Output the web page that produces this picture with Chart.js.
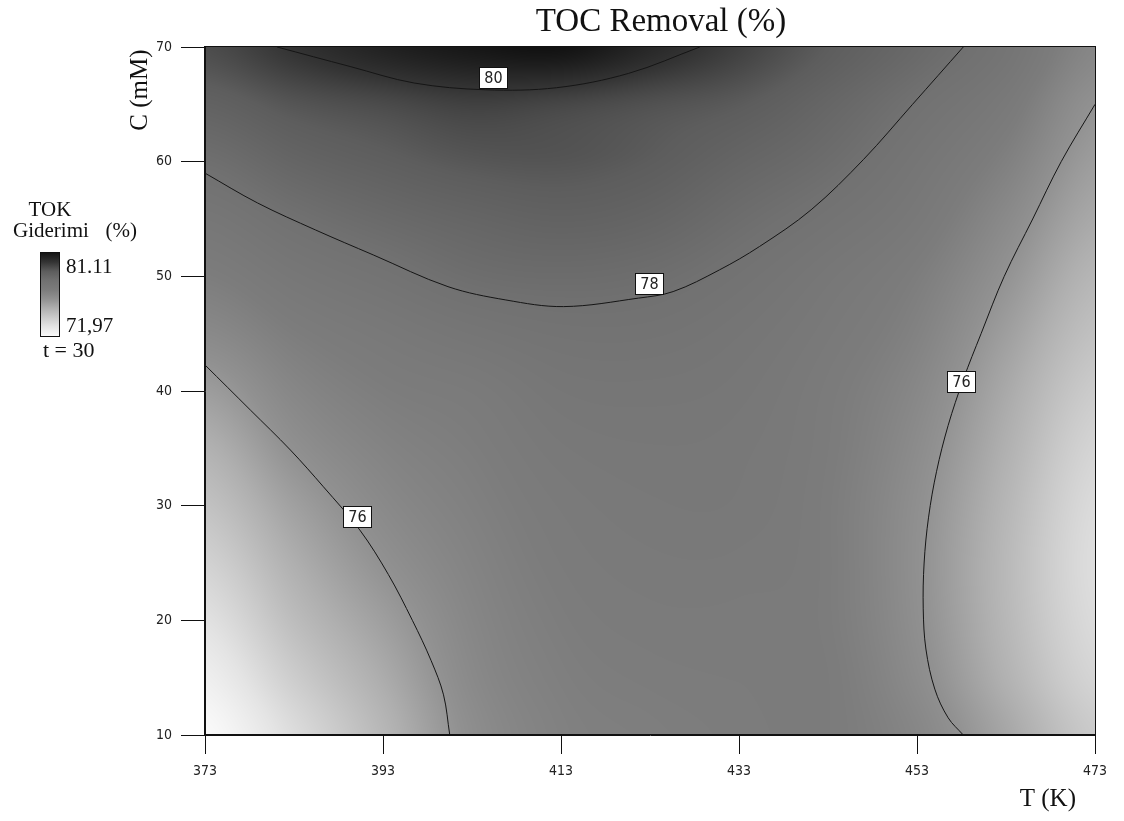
<!DOCTYPE html>
<html>
<head>
<meta charset="utf-8">
<title>TOC Removal (%)</title>
<script src="https://cdn.jsdelivr.net/npm/chart.js@4.4.1/dist/chart.umd.min.js"></script>
<style>
    html, body { margin: 0; padding: 0; background: #fff; }
</style>
</head>
<body>
<canvas id="myChart" width="1124" height="821"></canvas>
<script>
// grid of the response surface: columns = T (K), rows = C (mM), values = TOC removal (%)
const tempK = [373, 383, 393, 403, 413, 423, 433, 443, 453, 463, 473];
const concMM = [10, 15, 20, 25, 30, 35, 40, 45, 50, 55, 60, 65, 70];
const removal = [
    [71.97, 73.3, 74.7, 76.15, 76.75, 76.9, 77.0, 77.05, 76.5, 75.3, 74.0],
    [72.5, 73.9, 75.1, 76.35, 76.85, 77.0, 77.05, 77.05, 76.25, 74.9, 73.6],
    [73.1, 74.5, 75.55, 76.5, 76.95, 77.1, 77.1, 77.0, 76.1, 74.7, 73.35],
    [73.7, 75.0, 76.0, 76.65, 77.05, 77.2, 77.2, 77.0, 76.05, 74.65, 73.25],
    [74.3, 75.5, 76.35, 76.8, 77.15, 77.3, 77.3, 77.0, 76.1, 74.75, 73.35],
    [74.9, 76.05, 76.65, 76.95, 77.3, 77.4, 77.35, 77.05, 76.25, 74.95, 73.6],
    [75.6, 76.5, 76.95, 77.15, 77.5, 77.55, 77.45, 77.1, 76.45, 75.2, 73.95],
    [76.35, 76.95, 77.3, 77.6, 77.8, 77.8, 77.6, 77.25, 76.7, 75.55, 74.35],
    [76.95, 77.45, 77.8, 78.15, 78.25, 78.15, 77.85, 77.45, 76.95, 75.95, 74.75],
    [77.5, 78.0, 78.35, 78.6, 78.75, 78.6, 78.2, 77.8, 77.3, 76.35, 75.2],
    [78.1, 78.6, 78.9, 79.15, 79.2, 79.0, 78.6, 78.2, 77.6, 76.8, 75.6],
    [78.75, 79.2, 79.45, 79.7, 79.55, 79.3, 79.05, 78.55, 77.95, 77.25, 76.0],
    [79.4, 80.05, 80.6, 80.95, 81.1, 80.4, 79.7, 79.0, 78.4, 77.7, 76.5]
];

// contour lines (T, C)
const c80T = [381.1, 389.3, 396.5, 404.5, 412.5, 420.6, 428.6];
const c80C = [70, 68.3, 66.86, 66.27, 66.45, 67.7, 70];
const c78T = [373, 378.9, 385.4, 391.9, 400.3, 406.8, 413.3, 421.7, 425.6, 430.8, 435.3, 441.1, 447, 452.5, 458.2];
const c78C = [59.0, 56.4, 54.05, 51.87, 49.1, 47.94, 47.36, 48.1, 48.67, 50.56, 52.6, 55.8, 60.2, 65.0, 70];
const c76LeftT = [373, 378.1, 382.6, 386.3, 390.4, 393.6, 396.3, 398.4, 399.8, 400.5];
const c76LeftC = [42.27, 38.34, 34.85, 31.65, 27.87, 24.0, 20.0, 16.5, 13.5, 10.0];
const c76RightT = [473, 469.2, 466, 462.8, 460.2, 458.2, 456.5, 455.2, 454.3, 453.8, 453.7, 454.0, 455.0, 456.5, 458.2];
const c76RightC = [65.0, 60, 55, 50, 45, 41, 37, 33, 29, 25, 21, 17.5, 14, 11.5, 10];

// contour level labels
const labelText = ["80", "78", "76", "76"];
const labelT = [405.4, 422.9, 457.9, 390.1];
const labelC = [67.3, 49.3, 40.8, 29.0];

const tickT = [373, 393, 413, 433, 453, 473];
const tickC = [10, 20, 30, 40, 50, 60, 70];

const legendMax = 81.11;
const legendMinText = "71,97";

// gray levels used for shading
const shadeAt = [71.97, 73, 74, 75, 76, 77, 78, 79, 80, 81.11];
const shadeGray = [250, 228, 202, 175, 145, 124, 113, 93, 52, 18];

const serif = "'Liberation Serif', 'Times New Roman', serif";
const narrow = "'Liberation Sans Narrow', 'DejaVu Sans Condensed', sans-serif";

function grayFor(v) {
    if (v <= shadeAt[0]) return shadeGray[0];
    for (let i = 1; i < shadeAt.length; i++) {
        if (v <= shadeAt[i]) {
            const f = (v - shadeAt[i - 1]) / (shadeAt[i] - shadeAt[i - 1]);
            return shadeGray[i - 1] + f * (shadeGray[i] - shadeGray[i - 1]);
        }
    }
    return shadeGray[shadeGray.length - 1];
}

function cubic(p0, p1, p2, p3, t) {
    return p1 + 0.5 * t * (p2 - p0 + t * (2 * p0 - 5 * p1 + 4 * p2 - p3 + t * (3 * (p1 - p2) + p3 - p0)));
}

function cell(i, j) {
    i = Math.max(0, Math.min(concMM.length - 1, i));
    j = Math.max(0, Math.min(tempK.length - 1, j));
    return removal[i][j];
}

// smooth lookup between grid nodes
function sample(t, c) {
    const gx = (t - tempK[0]) / (tempK[1] - tempK[0]);
    const gy = (c - concMM[0]) / (concMM[1] - concMM[0]);
    const j = Math.min(Math.floor(gx), tempK.length - 2);
    const i = Math.min(Math.floor(gy), concMM.length - 2);
    const fx = gx - j, fy = gy - i;
    const rows = [];
    for (let k = -1; k <= 2; k++) {
        rows.push(cubic(cell(i + k, j - 1), cell(i + k, j), cell(i + k, j + 1), cell(i + k, j + 2), fx));
    }
    return cubic(rows[0], rows[1], rows[2], rows[3], fy);
}

let surfaceCanvas = null;

const surfacePlugin = {
    id: 'surface',
    beforeDraw(chart) {
        const { ctx, chartArea: a, scales: { x, y } } = chart;
        const left = Math.round(a.left), top = Math.round(a.top);
        const w = Math.round(a.right) - left, h = Math.round(a.bottom) - top;
        if (!surfaceCanvas) {
            surfaceCanvas = document.createElement('canvas');
            surfaceCanvas.width = w;
            surfaceCanvas.height = h;
            const sctx = surfaceCanvas.getContext('2d');
            const img = sctx.createImageData(w, h);
            for (let py = 0; py < h; py++) {
                const c = y.getValueForPixel(top + py + 0.5);
                for (let px = 0; px < w; px++) {
                    const t = x.getValueForPixel(left + px + 0.5);
                    const g = Math.round(grayFor(sample(t, c)));
                    const k = (py * w + px) * 4;
                    img.data[k] = g;
                    img.data[k + 1] = g;
                    img.data[k + 2] = g;
                    img.data[k + 3] = 255;
                }
            }
            sctx.putImageData(img, 0, 0);
        }
        ctx.drawImage(surfaceCanvas, left, top);
    }
};

const labelPlugin = {
    id: 'levelLabels',
    afterDatasetsDraw(chart) {
        const { ctx, scales: { x, y } } = chart;
        ctx.save();
        ctx.font = "16px " + narrow;
        ctx.textAlign = 'center';
        ctx.textBaseline = 'middle';
        for (let i = 0; i < labelText.length; i++) {
            const px = Math.round(x.getPixelForValue(labelT[i]));
            const py = Math.round(y.getPixelForValue(labelC[i]));
            ctx.fillStyle = '#fff';
            ctx.fillRect(px - 14, py - 11, 29, 22);
            ctx.strokeStyle = '#111';
            ctx.lineWidth = 1;
            ctx.strokeRect(px - 13.5, py - 10.5, 28, 21);
            ctx.fillStyle = '#222';
            ctx.fillText(labelText[i], px + 0.5, py + 1);
        }
        ctx.restore();
    }
};

const textPlugin = {
    id: 'frameAndText',
    afterDraw(chart) {
        const { ctx, chartArea: a } = chart;
        ctx.save();
        ctx.strokeStyle = '#111';
        ctx.lineWidth = 1;
        ctx.strokeRect(Math.round(a.left) - 0.5, Math.round(a.top) - 0.5,
            Math.round(a.right - a.left) + 1, Math.round(a.bottom - a.top));

        ctx.fillStyle = '#111';
        ctx.font = "33px " + serif;
        ctx.textAlign = 'center';
        ctx.textBaseline = 'alphabetic';
        ctx.fillText("TOC Removal (%)", 661, 31);

        ctx.font = "25px " + serif;
        ctx.textAlign = 'right';
        ctx.fillText("T (K)", 1076, 806);

        ctx.save();
        ctx.translate(140, 90);
        ctx.rotate(-Math.PI / 2);
        ctx.textAlign = 'center';
        ctx.textBaseline = 'middle';
        ctx.fillText("C (mM)", 0, 0);
        ctx.restore();

        // legend
        ctx.font = "21px " + serif;
        ctx.textAlign = 'center';
        ctx.fillText("TOK", 50, 216);
        ctx.textAlign = 'left';
        ctx.fillText("Giderimi", 13, 237);
        ctx.textAlign = 'right';
        ctx.fillText("(%)", 137, 237);

        const grad = ctx.createLinearGradient(0, 252, 0, 336);
        for (let i = 0; i < shadeAt.length; i++) {
            const g = Math.round(shadeGray[i]);
            const f = (legendMax - shadeAt[i]) / (legendMax - shadeAt[0]);
            grad.addColorStop(Math.max(0, Math.min(1, f)), 'rgb(' + g + ',' + g + ',' + g + ')');
        }
        ctx.fillStyle = grad;
        ctx.fillRect(40, 252, 19, 84);
        ctx.strokeStyle = '#111';
        ctx.strokeRect(40.5, 252.5, 19, 84);

        ctx.fillStyle = '#111';
        ctx.textAlign = 'left';
        ctx.fillText(legendMax.toFixed(2), 66, 273);
        ctx.fillText(legendMinText, 66, 332);
        ctx.font = "22px " + serif;
        ctx.fillText("t = 30", 43, 357);
        ctx.restore();
    }
};

function toPoints(ts, cs) {
    return ts.map((t, i) => ({ x: t, y: cs[i] }));
}

function contourSet(ts, cs) {
    return {
        data: toPoints(ts, cs),
        showLine: true,
        borderColor: '#151515',
        borderWidth: 1,
        pointRadius: 0,
        tension: 0.35
    };
}

const chart = new Chart(document.getElementById('myChart'), {
    type: 'scatter',
    data: {
        datasets: [
            contourSet(c80T, c80C),
            contourSet(c78T, c78C),
            contourSet(c76LeftT, c76LeftC),
            contourSet(c76RightT, c76RightC)
        ]
    },
    options: {
        responsive: false,
        animation: false,
        events: [],
        layout: { padding: { left: 100, right: 29, top: 47, bottom: 0 } },
        plugins: {
            legend: { display: false },
            tooltip: { enabled: false }
        },
        scales: {
            x: {
                type: 'linear',
                min: tickT[0],
                max: tickT[tickT.length - 1],
                afterBuildTicks: s => { s.ticks = tickT.map(v => ({ value: v })); },
                afterFit: s => { s.height = 86; },
                ticks: { color: '#222', padding: 9, font: { family: narrow, size: 14 } },
                grid: { drawOnChartArea: false, tickLength: 19, color: '#111' },
                border: { color: '#111' }
            },
            y: {
                type: 'linear',
                min: tickC[0],
                max: tickC[tickC.length - 1],
                afterBuildTicks: s => { s.ticks = tickC.map(v => ({ value: v })); },
                afterFit: s => { s.width = 105; },
                ticks: { color: '#222', padding: 9, font: { family: narrow, size: 14 } },
                grid: { drawOnChartArea: false, tickLength: 24, color: '#111' },
                border: { color: '#111' }
            }
        }
    },
    plugins: [surfacePlugin, labelPlugin, textPlugin]
});
</script>
</body>
</html>
